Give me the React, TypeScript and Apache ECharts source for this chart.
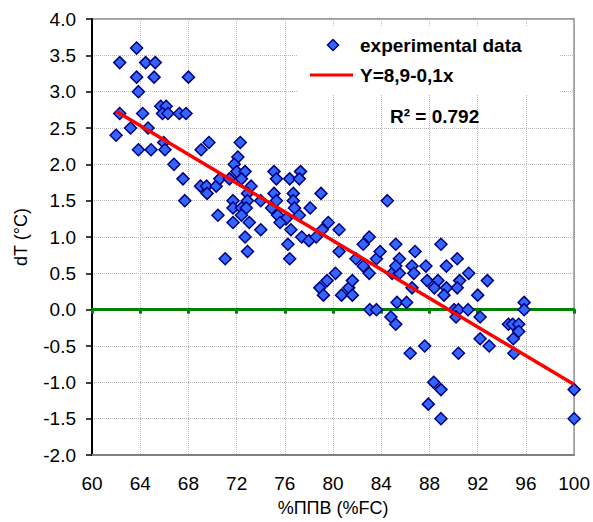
import React, { useEffect, useRef } from "react";
import * as echarts from "echarts";

// Experimental data: %FC (x) and dT in °C (y)
const xValues = [
  62.0, 62.3, 62.3, 63.2, 63.7, 63.7, 63.85, 63.85, 64.2, 64.45, 64.65, 64.9, 65.15, 65.25, 65.7, 66.15,
  65.85, 66.3, 65.95, 66.05, 66.8, 67.25, 67.8, 68.0, 67.55, 67.7, 69.05, 69.7, 69.0, 69.5, 69.55, 70.3,
  70.6, 71.4, 70.45, 71.05, 72.3, 72.1, 71.8, 72.0, 72.7, 72.4, 73.2, 72.9, 71.7, 72.9, 74.0, 71.7,
  72.4, 72.8, 72.4, 71.7, 73.05, 74.0, 72.7, 72.9, 75.1, 75.3, 76.4, 77.3, 77.2, 75.1, 76.7, 76.7,
  79.0, 75.3, 74.9, 76.8, 78.1, 75.4, 76.1, 77.2, 75.6, 76.5, 77.4, 78.0, 78.6, 79.1, 79.6, 76.25,
  76.4, 80.5, 80.5, 78.9, 79.2, 79.5, 80.2, 80.7, 81.3, 81.6, 81.6, 81.9, 82.5, 82.5, 83.0, 83.0,
  83.6, 83.9, 83.05, 83.6, 84.5, 84.9, 85.5, 85.2, 85.5, 85.2, 85.3, 86.1, 84.8, 85.2, 86.55, 86.7,
  86.8, 86.55, 86.4, 87.7, 87.8, 87.6, 87.9, 88.35, 88.95, 88.95, 88.95, 88.7, 88.4, 89.4, 89.4, 89.2,
  90.3, 90.5, 90.3, 90.05, 90.4, 91.2, 90.2, 90.4, 91.25, 92.0, 92.2, 92.2, 92.8, 92.95, 94.55, 94.9,
  95.4, 95.4, 94.95, 95.0, 95.85, 95.85, 100, 100,
];
const yValues = [
  2.4, 2.7, 3.4, 2.5, 3.6, 3.2, 3.0, 2.2, 2.7, 3.4, 2.5, 2.2, 3.2, 3.4, 2.8, 2.8,
  2.7, 2.7, 2.3, 2.2, 2.0, 2.7, 2.7, 3.2, 1.8, 1.5, 2.2, 2.3, 1.7, 1.7, 1.6, 1.7,
  1.8, 1.8, 1.3, 0.7, 2.3, 2.1, 2.0, 1.9, 1.9, 1.8, 1.7, 1.6, 1.5, 1.5, 1.5, 1.4,
  1.4, 1.4, 1.3, 1.2, 1.2, 1.1, 1.0, 0.8, 1.9, 1.8, 1.8, 1.9, 1.8, 1.6, 1.6, 1.5,
  1.6, 1.5, 1.4, 1.4, 1.4, 1.3, 1.25, 1.3, 1.2, 1.1, 1.0, 0.95, 1.0, 1.1, 1.2, 0.9,
  0.7, 1.1, 0.8, 0.3, 0.2, 0.4, 0.5, 0.2, 0.3, 0.4, 0.2, 0.7, 0.6, 0.9, 1.0, 0.5,
  0.7, 0.8, 0.0, 0.0, 1.5, 0.5, 0.5, 0.9, 0.7, 0.6, 0.1, 0.1, -0.1, -0.2, 0.6, 0.5,
  0.8, 0.3, -0.6, 0.6, 0.4, -0.5, -1.3, -1.0, -1.1, -1.5, 0.9, 0.4, 0.3, 0.6, 0.3, 0.2,
  0.7, 0.4, 0.3, 0.0, 0.0, 0.0, -0.1, -0.6, 0.5, 0.2, -0.1, -0.4, 0.4, -0.5, -0.2, -0.2,
  -0.2, -0.3, -0.4, -0.6, 0.1, 0.0, -1.1, -1.5,
];

// Regression line Y = 8,9 - 0,1x (end points as drawn)
const trendX = [62, 100];
const trendY = [2.73, -1.03];

const seriesNames = ["experimental data", "Y=8,9-0,1x"];
const r2Text = "R² = 0.792";
const xAxisTitle = "%ППВ (%FC)";
const yAxisTitle = "dT (°C)";

const FONT = "'Liberation Sans', Arial, sans-serif";
const BLUE = "#3366FF";
const NAVY = "#000080";

export default function App() {
  const ref = useRef<HTMLDivElement>(null);

  useEffect(() => {
    if (!ref.current) return;
    const chart = echarts.init(ref.current, undefined, { renderer: "svg" });

    const scatterData = xValues.map((x, i) => [x, yValues[i]]);
    const trendData = trendX.map((x, i) => [x, trendY[i]]);

    chart.setOption({
      animation: false,
      backgroundColor: "#ffffff",
      grid: {
        left: 92,
        top: 19,
        right: 18,
        bottom: 65,
        show: true,
        borderColor: "#808080",
        borderWidth: 1.5,
        backgroundColor: "transparent",
      },
      xAxis: [
        {
          type: "value",
          min: 60,
          max: 100,
          interval: 4,
          position: "bottom",
          name: xAxisTitle,
          nameLocation: "middle",
          nameGap: 44,
          nameTextStyle: { fontFamily: FONT, fontSize: 18, color: "#000" },
          axisLine: { onZero: false, lineStyle: { color: "#808080", width: 2 } },
          axisTick: { show: false },
          axisLabel: { fontFamily: FONT, fontSize: 19, color: "#000", margin: 19 },
          splitLine: { show: true, lineStyle: { color: "#b8b8b8", type: "dotted", width: 1 } },
        },
        {
          type: "value",
          min: 60,
          max: 100,
          interval: 4,
          position: "bottom",
          axisLine: { onZero: true, onZeroAxisIndex: 0, lineStyle: { color: "#008000", width: 3 } },
          axisTick: { show: true, inside: false, length: 4, lineStyle: { color: "#008000", width: 3 } },
          axisLabel: { show: false },
          splitLine: { show: false },
        },
      ],
      yAxis: {
        type: "value",
        min: -2,
        max: 4,
        interval: 0.5,
        name: yAxisTitle,
        nameLocation: "middle",
        nameGap: 62,
        nameRotate: 90,
        nameTextStyle: { fontFamily: FONT, fontSize: 18, color: "#000" },
        axisLine: { onZero: false, lineStyle: { color: "#000", width: 2 } },
        axisTick: { show: true, length: 6, lineStyle: { color: "#000", width: 1.5 } },
        axisLabel: {
          fontFamily: FONT,
          fontSize: 19,
          color: "#000",
          margin: 16,
          formatter: (v: number) => v.toFixed(1),
        },
        splitLine: { show: true, lineStyle: { color: "#b8b8b8", type: "dotted", width: 1 } },
      },
      series: [
        {
          name: seriesNames[0],
          type: "scatter",
          xAxisIndex: 0,
          data: scatterData,
          symbol: "diamond",
          symbolSize: 12,
          itemStyle: { color: BLUE, borderColor: NAVY, borderWidth: 1.5, opacity: 1 },
          z: 3,
        },
        {
          name: seriesNames[1],
          type: "line",
          xAxisIndex: 0,
          data: trendData,
          showSymbol: false,
          symbol: "none",
          lineStyle: { color: "#FF0000", width: 3.5 },
          z: 4,
        },
      ],
      graphic: [
        {
          type: "rect",
          z: 20,
          shape: { x: 298, y: 27, width: 262, height: 68 },
          style: { fill: "#ffffff" },
        },
        {
          type: "polygon",
          z: 21,
          shape: { points: [[333, 39.5], [338.5, 45], [333, 50.5], [327.5, 45]] },
          style: { fill: BLUE, stroke: NAVY, lineWidth: 1.5 },
        },
        {
          type: "text",
          z: 21,
          x: 360,
          y: 45,
          style: {
            text: seriesNames[0],
            fontFamily: FONT,
            fontSize: 19,
            fontWeight: "bold",
            fill: "#000",
            align: "left",
            verticalAlign: "middle",
          },
        },
        {
          type: "line",
          z: 21,
          shape: { x1: 310, y1: 75, x2: 353, y2: 75 },
          style: { stroke: "#FF0000", lineWidth: 3 },
        },
        {
          type: "text",
          z: 21,
          x: 360,
          y: 75,
          style: {
            text: seriesNames[1],
            fontFamily: FONT,
            fontSize: 19,
            fontWeight: "bold",
            fill: "#000",
            align: "left",
            verticalAlign: "middle",
          },
        },
        {
          type: "text",
          z: 21,
          x: 390,
          y: 116,
          style: {
            text: r2Text,
            fontFamily: FONT,
            fontSize: 19,
            fontWeight: "bold",
            fill: "#000",
            align: "left",
            verticalAlign: "middle",
          },
        },
      ],
    });

    return () => chart.dispose();
  }, []);

  return (
    <div
      ref={ref}
      style={{ position: "fixed", left: 0, top: 0, width: 593, height: 522, background: "#fff" }}
    />
  );
}
